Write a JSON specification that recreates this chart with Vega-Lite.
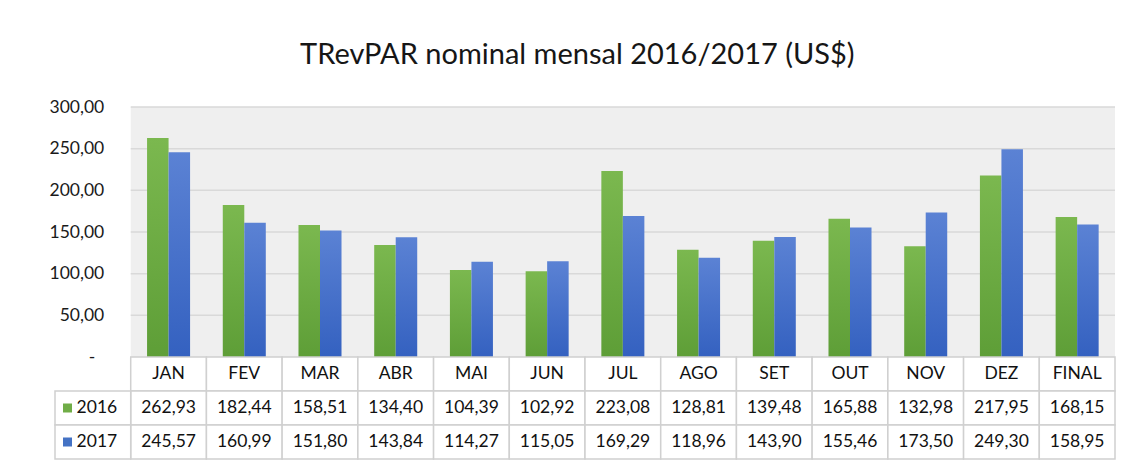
{
  "$schema": "https://vega.github.io/schema/vega-lite/v6.json",
  "background": "white",
  "padding": {"left": 48, "top": 41, "right": 24, "bottom": 6},
  "bounds": "flush",
  "title": {"text": "TRevPAR nominal mensal 2016/2017 (US$)", "font": "Lato", "fontSize": 29, "fontWeight": "normal", "color": "#161616", "offset": 28, "anchor": "middle", "dx": -5},
  "config": {
    "view": {"stroke": null},
    "font": "Lato",
    "locale": {"number": {"decimal": ",", "thousands": ".", "grouping": [3], "currency": ["US$", ""]}}
  },
  "datasets": {
    "tr": [
      {"month": "JAN", "year": "2016", "value": 262.93},
      {"month": "FEV", "year": "2016", "value": 182.44},
      {"month": "MAR", "year": "2016", "value": 158.51},
      {"month": "ABR", "year": "2016", "value": 134.40},
      {"month": "MAI", "year": "2016", "value": 104.39},
      {"month": "JUN", "year": "2016", "value": 102.92},
      {"month": "JUL", "year": "2016", "value": 223.08},
      {"month": "AGO", "year": "2016", "value": 128.81},
      {"month": "SET", "year": "2016", "value": 139.48},
      {"month": "OUT", "year": "2016", "value": 165.88},
      {"month": "NOV", "year": "2016", "value": 132.98},
      {"month": "DEZ", "year": "2016", "value": 217.95},
      {"month": "FINAL", "year": "2016", "value": 168.15},
      {"month": "JAN", "year": "2017", "value": 245.57},
      {"month": "FEV", "year": "2017", "value": 160.99},
      {"month": "MAR", "year": "2017", "value": 151.80},
      {"month": "ABR", "year": "2017", "value": 143.84},
      {"month": "MAI", "year": "2017", "value": 114.27},
      {"month": "JUN", "year": "2017", "value": 115.05},
      {"month": "JUL", "year": "2017", "value": 169.29},
      {"month": "AGO", "year": "2017", "value": 118.96},
      {"month": "SET", "year": "2017", "value": 143.90},
      {"month": "OUT", "year": "2017", "value": 155.46},
      {"month": "NOV", "year": "2017", "value": 173.50},
      {"month": "DEZ", "year": "2017", "value": 249.30},
      {"month": "FINAL", "year": "2017", "value": 158.95}
    ],
    "grid": [{"g": 50}, {"g": 100}, {"g": 150}, {"g": 200}, {"g": 250}, {"g": 300}],
    "one": [{}]
  },
  "spacing": 0,
  "vconcat": [
    {
      "width": 1060,
      "height": 250,
      "layer": [
        {
          "data": {"name": "one"},
          "mark": {"type": "rect", "color": "#efefef"},
          "encoding": {
            "x": {"datum": "JAN", "type": "nominal", "bandPosition": 0, "axis": null,
                  "scale": {"domain": ["LEG", "JAN", "FEV", "MAR", "ABR", "MAI", "JUN", "JUL", "AGO", "SET", "OUT", "NOV", "DEZ", "FINAL"], "paddingInner": 0, "paddingOuter": 0}},
            "x2": {"datum": "FINAL", "bandPosition": 1},
            "y": {"datum": 300, "type": "quantitative", "scale": {"domain": [0, 300], "nice": false},
                  "axis": {"values": [0, 50, 100, 150, 200, 250, 300], "format": ".2f", "labelExpr": "datum.value == 0 ? '-' : datum.label", "title": null, "domain": false, "ticks": false, "grid": false, "offset": -75.714,
                           "labelPadding": {"condition": {"test": "datum.value == 0", "value": 36}, "value": 27},
                           "labelFont": "Lato", "labelFontSize": 17.5, "labelColor": "#1a1a1a"}},
            "y2": {"datum": 0}
          }
        },
        {
          "data": {"name": "grid"},
          "mark": {"type": "rule", "color": "#d9d9d9", "strokeWidth": 1.5},
          "encoding": {
            "x": {"datum": "JAN", "type": "nominal", "bandPosition": 0, "axis": null},
            "x2": {"datum": "FINAL", "bandPosition": 1},
            "y": {"field": "g", "type": "quantitative", "title": null}
          }
        },
        {
          "data": {"name": "tr"},
          "transform": [{"filter": "datum.year == '2016'"}],
          "mark": {"type": "bar", "color": {"gradient": "linear", "x1": 0, "y1": 0, "x2": 0, "y2": 1, "stops": [{"offset": 0, "color": "#7bb84f"}, {"offset": 1, "color": "#5e9e37"}]}},
          "encoding": {
            "x": {"field": "month", "type": "nominal", "axis": null},
            "xOffset": {"field": "year", "type": "nominal", "scale": {"domain": ["2016", "2017"], "paddingInner": 0, "paddingOuter": 0.76}},
            "y": {"field": "value", "type": "quantitative", "title": null}
          }
        },
        {
          "data": {"name": "tr"},
          "transform": [{"filter": "datum.year == '2017'"}],
          "mark": {"type": "bar", "color": {"gradient": "linear", "x1": 0, "y1": 0, "x2": 0, "y2": 1, "stops": [{"offset": 0, "color": "#5b82d4"}, {"offset": 1, "color": "#3461c0"}]}},
          "encoding": {
            "x": {"field": "month", "type": "nominal", "axis": null},
            "xOffset": {"field": "year", "type": "nominal"},
            "y": {"field": "value", "type": "quantitative", "title": null}
          }
        }
      ]
    },
    {
      "width": 1060,
      "height": 102,
      "layer": [
        {
          "data": {"name": "tr"},
          "transform": [{"filter": "datum.year == '2016'"}],
          "mark": {"type": "rect", "fill": "white", "stroke": "#d0d0d0", "strokeWidth": 1.5},
          "encoding": {
            "x": {"field": "month", "type": "nominal", "axis": null,
                  "scale": {"domain": ["LEG", "JAN", "FEV", "MAR", "ABR", "MAI", "JUN", "JUL", "AGO", "SET", "OUT", "NOV", "DEZ", "FINAL"], "paddingInner": 0, "paddingOuter": 0}},
            "y": {"datum": "hdr", "type": "nominal", "axis": null, "scale": {"domain": ["hdr", "2016", "2017"], "paddingInner": 0, "paddingOuter": 0}}
          }
        },
        {
          "data": {"name": "tr"},
          "transform": [{"filter": "datum.year == '2016'"}],
          "mark": {"type": "text", "font": "Lato", "fontSize": 17.5, "color": "#111111"},
          "encoding": {
            "x": {"field": "month", "type": "nominal", "axis": null},
            "y": {"datum": "hdr", "type": "nominal", "axis": null},
            "text": {"field": "month", "type": "nominal"}
          }
        },
        {
          "data": {"name": "tr"},
          "mark": {"type": "rect", "fill": "white", "stroke": "#d0d0d0", "strokeWidth": 1.5},
          "encoding": {
            "x": {"field": "month", "type": "nominal", "axis": null},
            "y": {"field": "year", "type": "nominal", "axis": null}
          }
        },
        {
          "data": {"name": "tr"},
          "mark": {"type": "text", "font": "Lato", "fontSize": 17.5, "color": "#111111"},
          "encoding": {
            "x": {"field": "month", "type": "nominal", "axis": null},
            "y": {"field": "year", "type": "nominal", "axis": null},
            "text": {"field": "value", "type": "quantitative", "format": ",.2f"}
          }
        },
        {
          "data": {"name": "tr"},
          "transform": [{"filter": "datum.month == 'JAN'"}],
          "mark": {"type": "rect", "fill": "white", "stroke": "#d0d0d0", "strokeWidth": 1.5},
          "encoding": {
            "x": {"datum": "LEG", "type": "nominal", "axis": null},
            "y": {"field": "year", "type": "nominal", "axis": null}
          }
        },
        {
          "data": {"name": "tr"},
          "transform": [{"filter": "datum.month == 'JAN'"}],
          "mark": {"type": "point", "shape": "square", "filled": true, "size": 81, "opacity": 1},
          "encoding": {
            "x": {"datum": "LEG", "type": "nominal", "bandPosition": 0.165, "axis": null},
            "y": {"field": "year", "type": "nominal", "axis": null},
            "color": {"field": "year", "type": "nominal", "scale": {"domain": ["2016", "2017"], "range": ["#70ad47", "#4472c4"]}, "legend": null}
          }
        },
        {
          "data": {"name": "tr"},
          "transform": [{"filter": "datum.month == 'JAN'"}],
          "mark": {"type": "text", "font": "Lato", "fontSize": 17.5, "color": "#111111", "align": "left"},
          "encoding": {
            "x": {"datum": "LEG", "type": "nominal", "bandPosition": 0.285, "axis": null},
            "y": {"field": "year", "type": "nominal", "axis": null},
            "text": {"field": "year", "type": "nominal"}
          }
        }
      ]
    }
  ]
}
